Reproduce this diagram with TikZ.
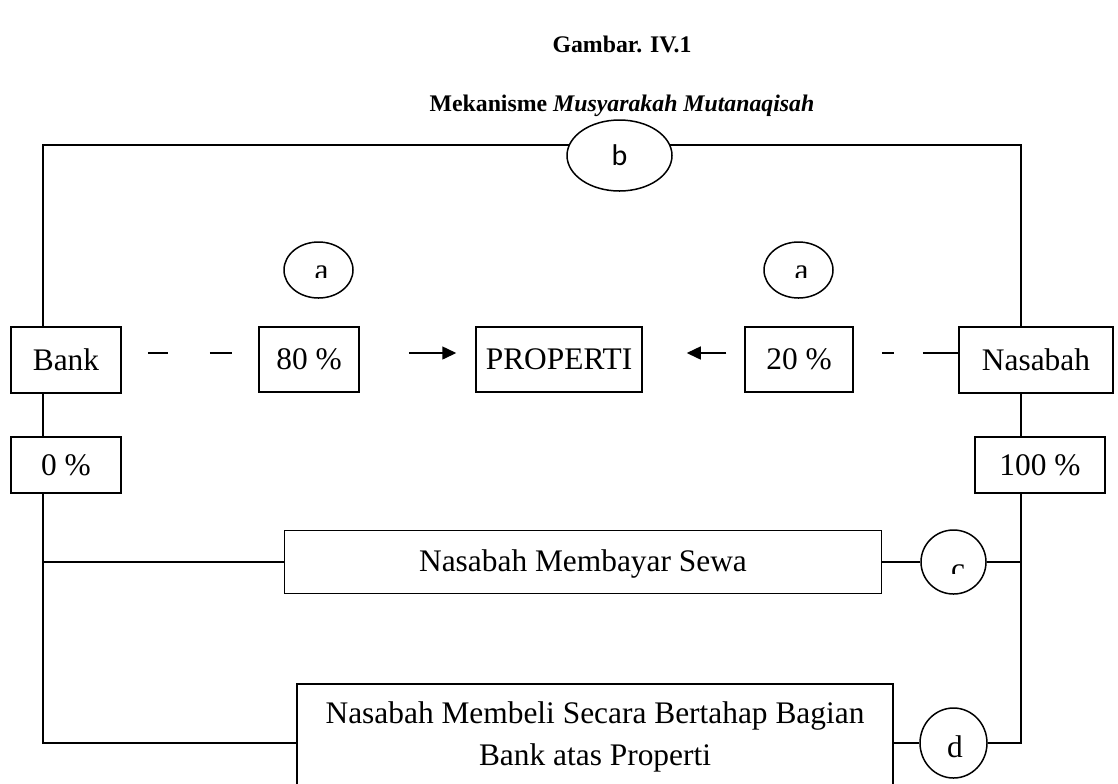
\documentclass[tikz,border=0pt]{standalone}
\usepackage{fontspec}
\setmainfont{Liberation Serif}
\newfontfamily\mycalfont{Carlito}
\usetikzlibrary{shapes.geometric,arrows.meta}
\newcommand\mybody{\fontsize{15.7}{21}\selectfont}
\newcommand\mytitle{\fontsize{11.9}{14}\selectfont\bfseries}
\begin{document}
\begin{tikzpicture}[x=0.5pt,y=-0.5pt,line width=0.75pt,
  box/.style={draw,rectangle,inner sep=0pt,font=\mybody},
  ell/.style={draw,ellipse,fill=white,inner sep=0pt},
  arr/.style={-{Triangle[length=7pt,width=6.5pt]}},
  lbl/.style={inner sep=0pt,font=\mybody}]
\useasboundingbox (0,0) rectangle (1118,783);
% titles
\node[anchor=base,inner sep=0pt,font=\mytitle] (t1) at (622,52) {Gambar. IV.1};
\node[anchor=base,inner sep=0pt,font=\mytitle] (t2) at (622,111) {Mekanisme \textit{Musyarakah Mutanaqisah}};
% boxes
\node[box,minimum width=55pt,minimum height=33pt] (bank) at (66,360) {Bank};
\node[box,minimum width=50pt,minimum height=32.5pt] (p80) at (309,359.5) {80 \%};
\node[box,minimum width=83pt,minimum height=32.5pt] (prop) at (559,359.5) {PROPERTI};
\node[box,minimum width=54pt,minimum height=32.5pt] (p20) at (799,359.5) {20 \%};
\node[box,minimum width=77pt,minimum height=33pt] (nas) at (1036,360) {Nasabah};
\node[box,minimum width=55pt,minimum height=28pt] (p0) at (66,465) {0 \%};
\node[box,minimum width=65pt,minimum height=28pt] (p100) at (1040,465) {100 \%};
\node[box,minimum width=298.5pt,minimum height=31.5pt,text depth=1.2pt] (sewa) at (583,562) {Nasabah Membayar Sewa};
\node[box,minimum width=298pt,minimum height=55pt,anchor=north] (beli) at (595,683) {};
\node[lbl,align=center] (belitext) at (595,736.7) {Nasabah Membeli Secara Bertahap Bagian\\Bank atas Properti};
% ellipses
\node[ell,minimum width=52.5pt,minimum height=35.5pt,font=\mycalfont\fontsize{15}{18}\selectfont] (b) at (619.5,155.5) {b};
\node[ell,minimum width=34.5pt,minimum height=28pt] (aL) at (318.5,270) {};
\node[ell,minimum width=34.5pt,minimum height=28pt] (aR) at (798.5,270) {};
\node[ell,minimum width=32.5pt,minimum height=32pt] (c) at (953.5,562) {};
\node[ell,minimum width=33.5pt,minimum height=35pt] (d) at (953.5,743) {};
\node[lbl,anchor=base] (dtext) at (955,757) {d};
\begin{scope}
  \clip (280,200) rectangle (360,277);
  \node[lbl,anchor=base] (atL) at (321.5,280) {a};
\end{scope}
\begin{scope}
  \clip (760,200) rectangle (840,277);
  \node[lbl,anchor=base] (atR) at (801.5,280) {a};
\end{scope}
\begin{scope}
  \clip (920,540) rectangle (990,573);
  \node[lbl,anchor=base] (ct) at (958,579) {c};
\end{scope}
% rails
\coordinate (lr) at (43,0);
\coordinate (rr) at (1021,0);
\coordinate (tl) at (43,145);
\coordinate (tr) at (1021,145);
\coordinate (bl) at (43,743);
\coordinate (br) at (1021,743);
\coordinate (mid) at (0,353);
\draw (lr |- bank.north) -- (tl) -- (tl -| b.168);
\draw (tr -| b.12) -- (tr) -- (rr |- nas.north);
\draw (lr |- bank.south) -- (lr |- p0.north);
\draw (rr |- nas.south) -- (rr |- p100.north);
\draw (lr |- p0.south) -- (bl) -- (bl -| beli.west);
\draw (lr |- sewa.west) -- (sewa.west);
\draw (rr |- p100.south) -- (br) -- (d.east);
\draw (d.west) -- (d.west -| beli.east);
\draw (rr |- c.east) -- (c.east);
\draw (c.west) -- (sewa.east);
% middle row
\draw[dash pattern=on 10pt off 21pt on 11pt off 27pt,dash phase=56pt] (bank.east |- mid) -- (p80.west |- mid);
\draw[dash pattern=on 6pt off 14.5pt on 18.5pt off 14pt,dash phase=39pt] (p20.east |- mid) -- (nas.west |- mid);
\draw[arr,shorten <=24.5pt,shorten >=9.5pt] (p80.east |- mid) -- (prop.west |- mid);
\draw[arr,shorten <=9pt,shorten >=22pt] (p20.west |- mid) -- (prop.east |- mid);
\end{tikzpicture}
\end{document}
